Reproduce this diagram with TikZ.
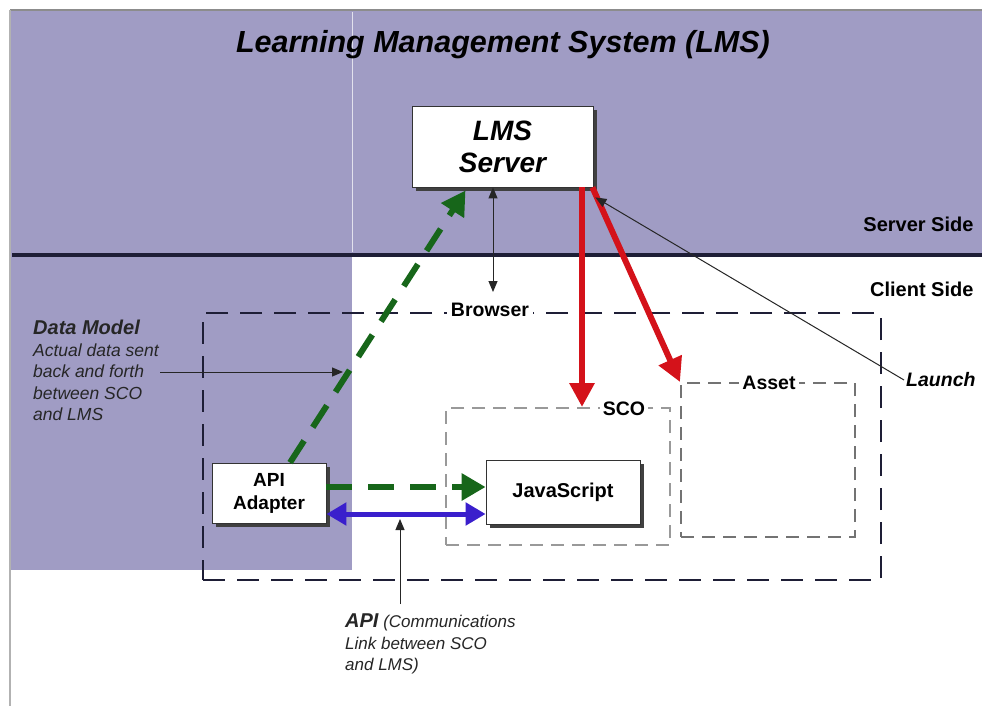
\documentclass[tikz,border=0pt]{standalone}
\usepackage{fontspec}
\setmainfont{Liberation Sans}
\usetikzlibrary{arrows.meta,shadows}
\definecolor{lmspurple}{HTML}{A09CC4}
\definecolor{lmsgreen}{HTML}{17661A}
\definecolor{lmsred}{HTML}{D4121A}
\definecolor{lmsblue}{HTML}{3A1FCC}
\definecolor{lmsdark}{HTML}{1E1E36}
\tikzset{
  whitebox/.style={draw=black!80, line width=0.8pt, fill=white, drop shadow={shadow xshift=4pt, shadow yshift=-4pt, fill=black!75, opacity=1}},
  browserbox/.style={draw=lmsdark, line width=2.6pt, dash pattern=on 22pt off 12pt},
  scobox/.style={draw=black!40, line width=2pt, dash pattern=on 13pt off 8pt},
  assetbox/.style={draw=black!55, line width=2pt, dash pattern=on 13pt off 8pt},
  boxlabel/.style={fill=white, font=\fontsize{19.5}{21}\selectfont\bfseries, inner sep=4pt},
  sidelabel/.style={font=\fontsize{20}{22}\selectfont\bfseries, anchor=east},
  greenarrow/.style={draw=lmsgreen, line width=6pt, dash pattern=on 26pt off 16pt, -{Triangle[length=24pt,width=26pt]}},
  redarrow/.style={draw=lmsred, line width=6pt, -{Triangle[length=24pt,width=24pt]}},
  bluearrow/.style={draw=lmsblue, line width=5pt, {Triangle[length=20pt,width=22pt]}-{Triangle[length=20pt,width=22pt]}},
  thinarrow/.style={draw=black!85, line width=1pt, -{Triangle[length=11pt,width=9pt]}},
  thindouble/.style={draw=black!85, line width=1pt, {Triangle[length=11pt,width=9pt]}-{Triangle[length=11pt,width=9pt]}},
}
\begin{document}
\begin{tikzpicture}[x=1pt,y=-1pt]
\useasboundingbox (0,0) rectangle (982,706);
\fill[white] (0,0) rectangle (982,706);
% backgrounds
\fill[lmspurple] (10,10) rectangle (982,255);
\fill[lmspurple] (10,255) rectangle (352,570);
\draw[white!70!lmspurple, line width=1pt] (352,12) -- (352,252);
\draw[black!45, line width=1.5pt] (10,10) -- (982,10);
\draw[black!30, line width=2pt] (10,10) -- (10,706);
\draw[lmsdark, line width=3.5pt] (12,255) -- (982,255);

% title
\node[font=\fontsize{30.5}{33}\selectfont\bfseries\itshape] (title) at (503,45) {Learning Management System (LMS)};

% side labels
\node[sidelabel] (server) at (977,224) {Server Side};
\node[sidelabel] (client) at (977,289) {Client Side};

% containers
\node[browserbox, minimum width=678pt, minimum height=267pt, inner sep=0pt] (browser) at (542,446.5) {};
\node[boxlabel] (browserlbl) at (490,310) {Browser};
\node[scobox, minimum width=224pt, minimum height=137pt, inner sep=0pt] (sco) at (558,476.5) {};
\node[boxlabel, inner sep=3pt] (scolbl) at (624,409) {SCO};
\node[assetbox, minimum width=174pt, minimum height=154pt, inner sep=0pt] (asset) at (768,460) {};
\node[boxlabel, inner sep=3pt] (assetlbl) at (769,383) {Asset};

% solid boxes
\node[whitebox, minimum width=181pt, minimum height=81pt, align=center,
      font=\fontsize{28}{32}\selectfont\bfseries\itshape] (lms) at (502.5,146.5) {LMS\\Server};
\node[whitebox, minimum width=154pt, minimum height=64pt,
      font=\fontsize{20}{22}\selectfont\bfseries] (js) at (563,492) {JavaScript};
\node[whitebox, minimum width=114pt, minimum height=60pt, align=center,
      font=\fontsize{19}{23}\selectfont\bfseries] (api) at (269,493) {API\\Adapter};

% annotations
\node[anchor=north west, align=left, inner sep=0pt, text=black!85,
      font=\fontsize{17.5}{21.5}\selectfont\itshape] (dm) at (33,320)
  {{\fontsize{20}{23}\selectfont\bfseries Data Model}\\Actual data sent\\back and forth\\between SCO\\and LMS};
\coordinate (dmstart) at (160,372);
\coordinate (dmend) at (343,372);
\node[anchor=north west, align=left, inner sep=0pt, text=black!85,
      font=\fontsize{17}{21.5}\selectfont\itshape] (apilbl) at (345,614)
  {{\fontsize{20}{21.5}\selectfont\bfseries API}\ (Communications\\Link between SCO\\and LMS)};
\coordinate (apistart) at (400,604);
\coordinate (apiend) at (400,519);
\node[font=\fontsize{19.5}{21}\selectfont\bfseries\itshape, anchor=west, inner sep=2pt] (launch) at (904,380) {Launch};
\coordinate (browsertop) at (493,292);

% connectors
\draw[greenarrow] ([xshift=21pt]api.north) -- ([xshift=-37pt,yshift=-3pt]lms.south);
\draw[greenarrow] ([yshift=6pt]api.east) -- ([yshift=5pt]js.west);
\draw[bluearrow] ([yshift=-21pt]api.east) -- ([yshift=-22pt]js.west);
\draw[redarrow] ([xshift=79.5pt]lms.south) -- ([xshift=24pt]sco.north);
\draw[redarrow] ([xshift=-1pt]lms.south east) -- (asset.north west);
\draw[thindouble] ([xshift=-9.5pt]lms.south) -- (browsertop);
\draw[thinarrow] (launch.west) -- ([xshift=2pt,yshift=-10pt]lms.south east);
\draw[thinarrow] (dmstart) -- (dmend);
\draw[thinarrow] (apistart) -- (apiend);
\end{tikzpicture}
\end{document}
